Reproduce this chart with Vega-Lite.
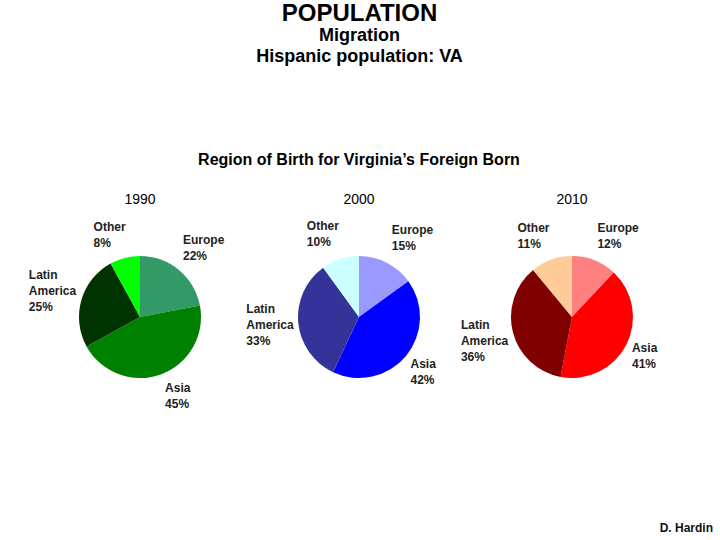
{
  "$schema": "https://vega.github.io/schema/vega-lite/v6.json",
  "padding": {"left": 0, "top": 2, "right": 0, "bottom": 0},
  "autosize": {"type": "pad"},
  "background": "white",
  "spacing": 0,
  "title": {
    "text": "POPULATION",
    "subtitle": ["Migration", "Hispanic population: VA"],
    "anchor": "middle",
    "dx": 3,
    "font": "Liberation Sans",
    "fontSize": 24,
    "fontWeight": "bold",
    "color": "black",
    "subtitleFont": "Liberation Sans",
    "subtitleFontSize": 18,
    "subtitleFontWeight": "bold",
    "subtitleLineHeight": 21,
    "subtitlePadding": 1,
    "subtitleColor": "black",
    "offset": 86
  },
  "datasets": {
    "shares": [
      {"year": 1990, "slice": 1, "region": "Europe", "share": 22, "label": "Europe\n22%"},
      {"year": 1990, "slice": 2, "region": "Asia", "share": 45, "label": "Asia\n45%"},
      {"year": 1990, "slice": 3, "region": "Latin America", "share": 25, "label": "Latin\nAmerica\n25%"},
      {"year": 1990, "slice": 4, "region": "Other", "share": 8, "label": "Other\n8%"},
      {"year": 2000, "slice": 1, "region": "Europe", "share": 15, "label": "Europe\n15%"},
      {"year": 2000, "slice": 2, "region": "Asia", "share": 42, "label": "Asia\n42%"},
      {"year": 2000, "slice": 3, "region": "Latin America", "share": 33, "label": "Latin\nAmerica\n33%"},
      {"year": 2000, "slice": 4, "region": "Other", "share": 10, "label": "Other\n10%"},
      {"year": 2010, "slice": 1, "region": "Europe", "share": 12, "label": "Europe\n12%"},
      {"year": 2010, "slice": 2, "region": "Asia", "share": 41, "label": "Asia\n41%"},
      {"year": 2010, "slice": 3, "region": "Latin America", "share": 36, "label": "Latin\nAmerica\n36%"},
      {"year": 2010, "slice": 4, "region": "Other", "share": 11, "label": "Other\n11%"}
    ]
  },
  "config": {
    "view": {"stroke": null},
    "font": "Liberation Sans",
    "title": {"font": "Liberation Sans", "color": "black"}
  },
  "vconcat": [
    {
      "title": {
        "text": "Region of Birth for Virginia’s Foreign Born",
        "anchor": "middle",
        "dx": 6,
        "fontSize": 16,
        "fontWeight": "bold",
        "offset": 25
      },
      "spacing": 0,
      "bounds": "flush",
      "resolve": {"scale": {"color": "independent", "theta": "independent"}},
      "hconcat": [
        {
          "width": 280,
          "height": 220,
          "title": {"text": "1990", "fontSize": 14, "fontWeight": "normal", "anchor": "middle", "offset": 0},
          "data": {"name": "shares"},
          "transform": [{"filter": "datum.year === 1990"}],
          "layer": [
            {
              "mark": {"type": "arc", "outerRadius": 61},
              "encoding": {
                "theta": {"field": "share", "type": "quantitative", "stack": true},
                "order": {"field": "slice"},
                "color": {"field": "region", "type": "nominal", "legend": null,
                  "scale": {"domain": ["Europe", "Asia", "Latin America", "Other"], "range": ["#339966", "#008000", "#003300", "#00ff00"]}}
              }
            },
            {
              "mark": {"type": "text", "align": "left", "baseline": "middle", "fontSize": 12, "fontWeight": "bold", "lineBreak": "\n", "lineHeight": 16, "color": "#222222",
                "radius": {"expr": "{'Europe': 91, 'Asia': 83, 'Latin America': 97, 'Other': 86}[datum.region]"},
                "dx": {"expr": "{'Europe': -15, 'Asia': -3, 'Latin America': -18, 'Other': -25}[datum.region]"},
                "dy": {"expr": "datum.region === 'Latin America' ? -15 : -7"}},
              "encoding": {
                "theta": {"field": "share", "type": "quantitative", "stack": true},
                "order": {"field": "slice"},
                "detail": {"field": "region"},
                "text": {"field": "label"}
              }
            }
          ]
        },
        {
          "width": 158,
          "height": 220,
          "title": {"text": "2000", "fontSize": 14, "fontWeight": "normal", "anchor": "middle", "offset": 0},
          "data": {"name": "shares"},
          "transform": [{"filter": "datum.year === 2000"}],
          "layer": [
            {
              "mark": {"type": "arc", "outerRadius": 61},
              "encoding": {
                "theta": {"field": "share", "type": "quantitative", "stack": true},
                "order": {"field": "slice"},
                "color": {"field": "region", "type": "nominal", "legend": null,
                  "scale": {"domain": ["Europe", "Asia", "Latin America", "Other"], "range": ["#9999ff", "#0000ff", "#333399", "#ccffff"]}}
              }
            },
            {
              "mark": {"type": "text", "align": "left", "baseline": "middle", "fontSize": 12, "fontWeight": "bold", "lineBreak": "\n", "lineHeight": 16, "color": "#222222",
                "radius": {"expr": "{'Europe': 90, 'Asia': 85, 'Latin America': 74, 'Other': 88}[datum.region]"},
                "dx": {"expr": "{'Europe': -8, 'Asia': -14, 'Latin America': -39, 'Other': -25}[datum.region]"},
                "dy": {"expr": "datum.region === 'Latin America' ? -15 : -7"}},
              "encoding": {
                "theta": {"field": "share", "type": "quantitative", "stack": true},
                "order": {"field": "slice"},
                "detail": {"field": "region"},
                "text": {"field": "label"}
              }
            }
          ]
        },
        {
          "width": 268,
          "height": 220,
          "title": {"text": "2010", "fontSize": 14, "fontWeight": "normal", "anchor": "middle", "offset": 0},
          "data": {"name": "shares"},
          "transform": [{"filter": "datum.year === 2010"}],
          "layer": [
            {
              "mark": {"type": "arc", "outerRadius": 61},
              "encoding": {
                "theta": {"field": "share", "type": "quantitative", "stack": true},
                "order": {"field": "slice"},
                "color": {"field": "region", "type": "nominal", "legend": null,
                  "scale": {"domain": ["Europe", "Asia", "Latin America", "Other"], "range": ["#ff8080", "#ff0000", "#800000", "#ffcc99"]}}
              }
            },
            {
              "mark": {"type": "text", "align": "left", "baseline": "middle", "fontSize": 12, "fontWeight": "bold", "lineBreak": "\n", "lineHeight": 16, "color": "#222222",
                "radius": {"expr": "{'Europe': 88, 'Asia': 83, 'Latin America': 92, 'Other': 87}[datum.region]"},
                "dx": {"expr": "{'Europe': -7, 'Asia': -14, 'Latin America': -22, 'Other': -25}[datum.region]"},
                "dy": {"expr": "datum.region === 'Latin America' ? -15 : -7"}},
              "encoding": {
                "theta": {"field": "share", "type": "quantitative", "stack": true},
                "order": {"field": "slice"},
                "detail": {"field": "region"},
                "text": {"field": "label"}
              }
            }
          ]
        }
      ]
    },
    {
      "width": 713,
      "height": 108,
      "data": {"values": [{"credit": "D. Hardin"}]},
      "mark": {"type": "text", "align": "right", "baseline": "bottom", "fontSize": 12, "fontWeight": "bold", "color": "#111111"},
      "encoding": {
        "x": {"field": "credit", "type": "nominal", "axis": null, "scale": {"type": "point", "align": 1, "padding": 0}},
        "y": {"field": "credit", "type": "nominal", "axis": null, "scale": {"type": "point", "align": 1, "padding": 0}},
        "text": {"field": "credit"}
      }
    }
  ]
}
